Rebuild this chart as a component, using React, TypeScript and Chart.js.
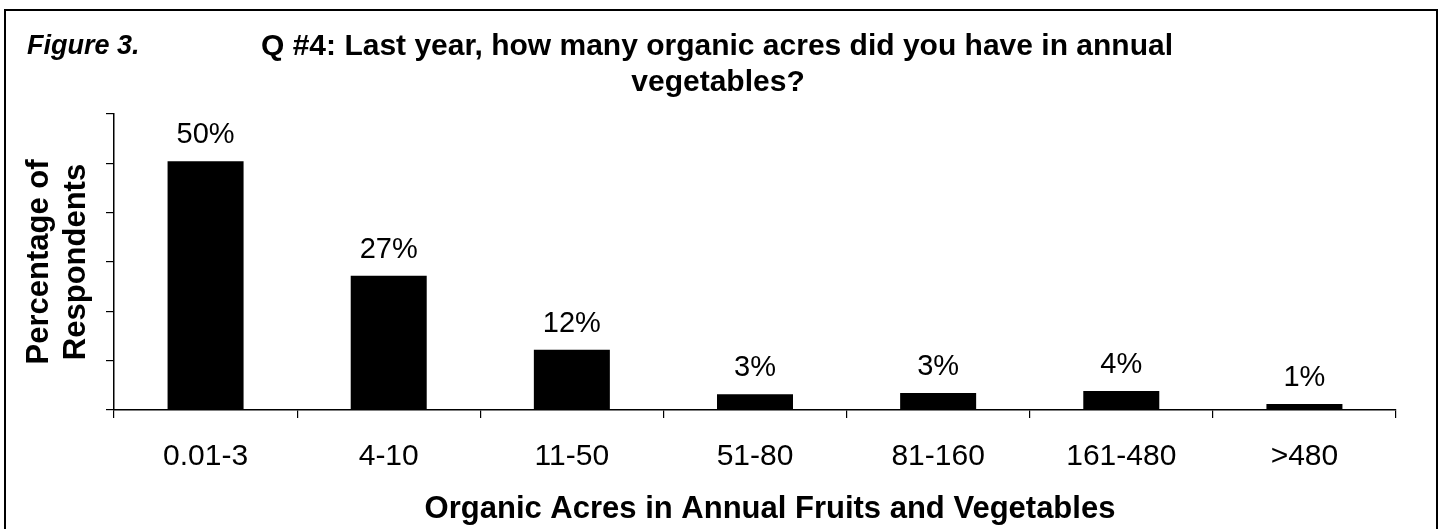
import React, { useEffect, useRef } from "react";
import { Chart, registerables } from "chart.js";

Chart.register(...registerables);

const categories = ["0.01-3", "4-10", "11-50", "51-80", "81-160", "161-480", ">480"];
const percentValues = [50.4, 27.2, 12.2, 3.2, 3.45, 3.85, 1.2];
const yTickValues = [0, 10, 20, 30, 40, 50, 60];
const figureLabel = "Figure 3.";
const titleLines = ["Q #4: Last year, how many organic acres did you have in annual", "vegetables?"];
const yTitleLines = ["Percentage of", "Respondents"];
const xTitle = "Organic Acres in Annual Fruits and Vegetables";

const W = 1443;
const H = 529;
const FONT = '"Liberation Sans", Arial, Helvetica, sans-serif';

const decorPlugin = {
  id: "decor",
  beforeDraw(chart: any) {
    const ctx = chart.ctx;
    ctx.save();
    ctx.fillStyle = "#fff";
    ctx.fillRect(0, 0, W, H);
    ctx.strokeStyle = "#000";
    ctx.lineWidth = 2;
    ctx.strokeRect(5, 10, 1432, 600);
    ctx.restore();
  },
  afterDraw(chart: any) {
    const ctx = chart.ctx;
    const area = chart.chartArea;
    ctx.save();
    ctx.fillStyle = "#000";
    ctx.font = `italic bold 27px ${FONT}`;
    ctx.textAlign = "left";
    ctx.textBaseline = "alphabetic";
    ctx.fillText(figureLabel, 27, 54);
    ctx.font = `bold 30px ${FONT}`;
    ctx.textAlign = "center";
    ctx.fillText(titleLines[0], 717, 55);
    ctx.fillText(titleLines[1], 718, 91);
    ctx.font = `bold 31px ${FONT}`;
    ctx.fillText(xTitle, 770, 518);
    const cy = (area.top + area.bottom) / 2;
    ctx.translate(0, cy);
    ctx.rotate(-Math.PI / 2);
    ctx.fillText(yTitleLines[0], 0, 48);
    ctx.fillText(yTitleLines[1], 0, 85);
    ctx.restore();
  },
  afterDatasetsDraw(chart: any) {
    const ctx = chart.ctx;
    const meta = chart.getDatasetMeta(0);
    const data = chart.data.datasets[0].data as number[];
    ctx.save();
    ctx.fillStyle = "#000";
    ctx.font = `29px ${FONT}`;
    ctx.textAlign = "center";
    ctx.textBaseline = "alphabetic";
    meta.data.forEach((bar: any, i: number) => {
      ctx.fillText(`${Math.round(data[i])}%`, bar.x, bar.y - 18);
    });
    ctx.restore();
  },
};

export default function App() {
  const canvasRef = useRef<HTMLCanvasElement>(null);

  useEffect(() => {
    if (!canvasRef.current) return;
    const chart = new Chart(canvasRef.current, {
      type: "bar",
      data: {
        labels: categories,
        datasets: [
          {
            data: percentValues,
            backgroundColor: "#000",
            borderWidth: 0,
            barPercentage: 0.415,
            categoryPercentage: 1,
          },
        ],
      },
      options: {
        responsive: false,
        animation: false,
        devicePixelRatio: 1,
        layout: { padding: { left: 0, right: 47, top: 114, bottom: 0 } },
        plugins: {
          legend: { display: false },
          tooltip: { enabled: false },
          title: { display: false },
        },
        scales: {
          x: {
            offset: true,
            grid: {
              offset: true,
              drawOnChartArea: false,
              drawTicks: true,
              tickLength: 8,
              color: "#000",
              lineWidth: 1.2,
            },
            border: { display: true, color: "#000", width: 1.5 },
            ticks: {
              color: "#000",
              font: { family: FONT, size: 30 },
              padding: 21,
              maxRotation: 0,
              autoSkip: false,
            },
            afterFit(scale: any) {
              scale.height = H - 410;
            },
          },
          y: {
            min: 0,
            max: 60,
            afterBuildTicks(scale: any) {
              scale.ticks = yTickValues.map((v) => ({ value: v }));
            },
            grid: {
              drawOnChartArea: false,
              drawTicks: true,
              tickLength: 8,
              color: "#000",
              lineWidth: 1.2,
            },
            border: { display: true, color: "#000", width: 1.5 },
            ticks: { display: false },
            afterFit(scale: any) {
              scale.width = 114;
            },
          },
        },
      },
      plugins: [decorPlugin],
    });
    return () => chart.destroy();
  }, []);

  return (
    <div style={{ position: "absolute", left: 0, top: 0, width: W, height: H, background: "#fff" }}>
      <canvas ref={canvasRef} width={W} height={H} style={{ width: W, height: H, display: "block" }} />
    </div>
  );
}
